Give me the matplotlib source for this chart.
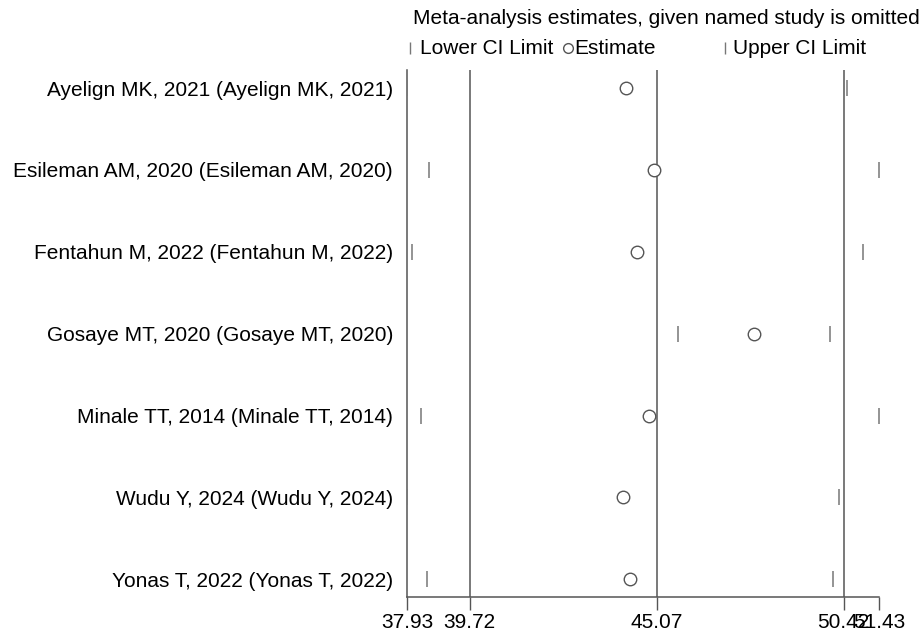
import matplotlib
matplotlib.use("Agg")
import matplotlib.pyplot as plt
from matplotlib.lines import Line2D

plt.rcParams['font.family'] = ['Liberation Sans', 'DejaVu Sans']

# leave-one-out estimates
studies = [
    "Ayelign MK, 2021 (Ayelign MK, 2021)",
    "Esileman AM, 2020 (Esileman AM, 2020)",
    "Fentahun M, 2022 (Fentahun M, 2022)",
    "Gosaye MT, 2020 (Gosaye MT, 2020)",
    "Minale TT, 2014 (Minale TT, 2014)",
    "Wudu Y, 2024 (Wudu Y, 2024)",
    "Yonas T, 2022 (Yonas T, 2022)",
]
estimate = [44.21, 45.00, 44.52, 47.85, 44.86, 44.11, 44.31]
lower = [37.93, 38.56, 38.06, 45.68, 38.34, 37.94, 38.51]
upper = [50.51, 51.43, 50.99, 50.04, 51.43, 50.28, 50.13]

# overall pooled estimate and CI
overall = [39.72, 45.07, 50.42]
xticks = [37.93, 39.72, 45.07, 50.42, 51.43]
xticklabels = ["37.93", "39.72", "45.07", "50.42", "51.43"]

fig = plt.figure(figsize=(9.21, 6.32), dpi=100)
ax = fig.add_axes([0.4419, 0.0549, 0.5123, 0.8343])

pos = list(range(1, len(studies) + 1))
for v in overall:
    ax.axvline(v, color='#555555', lw=1.1, zorder=1)

ax.plot(lower, pos, ls='none', marker='|', ms=11, mew=1.1, color='#777777', zorder=3)
ax.plot(upper, pos, ls='none', marker='|', ms=11, mew=1.1, color='#777777', zorder=3)
ax.plot(estimate, pos, ls='none', marker='o', ms=9, mfc='white', mec='#555555', mew=1.0, zorder=4)

ax.set_xlim(37.93, 51.43)
ax.set_ylim(len(studies) + 0.22, 0.78)
ax.set_yticks(pos)
ax.set_yticklabels(studies, fontsize=15)
ax.tick_params(axis='y', length=0, pad=10)
ax.set_xticks(xticks)
ax.set_xticklabels(xticklabels, fontsize=15)
ax.tick_params(axis='x', length=9, width=1, color='#555555', pad=2)

for s in ['top', 'right']:
    ax.spines[s].set_visible(False)
for s in ['left', 'bottom']:
    ax.spines[s].set_color('#555555')
    ax.spines[s].set_linewidth(1.1)

# header and key
fig.text(413 / 921, 1 - 19 / 632, "Meta-analysis estimates, given named study is omitted",
         fontsize=15, ha='left', va='center')
ky = 1 - 48 / 632
fig.add_artist(Line2D([410 / 921], [ky], marker='|', ms=9, color='#777777', ls='none'))
fig.text(420 / 921, ky, "Lower CI Limit", fontsize=15, ha='left', va='center')
fig.add_artist(Line2D([568 / 921], [ky], marker='o', ms=7, mfc='white', mec='#555555', ls='none'))
fig.text(574 / 921, ky, "Estimate", fontsize=15, ha='left', va='center')
fig.add_artist(Line2D([725 / 921], [ky], marker='|', ms=9, color='#777777', ls='none'))
fig.text(733 / 921, ky, "Upper CI Limit", fontsize=15, ha='left', va='center')

fig.savefig("out.png", dpi=100)
